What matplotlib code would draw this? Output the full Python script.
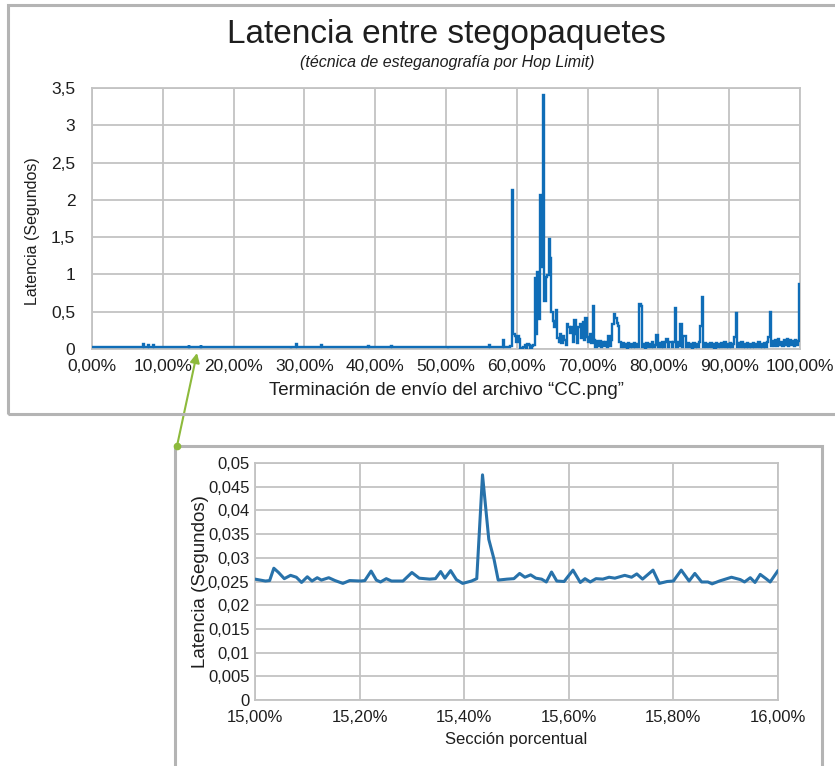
import numpy as np
import matplotlib
matplotlib.use("Agg")
import matplotlib.pyplot as plt
from matplotlib.patches import Rectangle
from matplotlib.lines import Line2D
from matplotlib.ticker import FuncFormatter, MultipleLocator

plt.rcParams['font.family'] = ['Liberation Sans', 'DejaVu Sans']

# ---------------- texts ----------------
title = "Latencia entre stegopaquetes"
subtitle = "(técnica de esteganografía por Hop Limit)"
top_xlabel = "Terminación de envío del archivo “CC.png”"
ylabel = "Latencia (Segundos)"
bottom_xlabel = "Sección porcentual"

# ---------------- top chart data (percent, seconds) ----------------
top_sparse_x = [0.0, 7.2, 7.3, 7.4, 7.9, 8.0, 8.1, 8.6, 8.7, 8.8,
                13.6, 13.7, 13.8, 15.3, 15.4, 15.5, 28.0, 28.1, 28.2,
                28.8, 28.9, 29.0, 32.3, 32.4, 32.5, 39.0, 39.1, 39.2,
                42.2, 42.3, 42.4, 50.2, 50.3, 50.4, 56.0, 56.1, 56.2,
                58.0, 58.1, 58.2, 58.4]
top_sparse_y = [0.025, 0.025, 0.07, 0.025, 0.025, 0.05, 0.025, 0.025, 0.06, 0.025,
                0.025, 0.055, 0.025, 0.025, 0.05, 0.025, 0.025, 0.04, 0.025,
                0.025, 0.065, 0.025, 0.025, 0.05, 0.025, 0.025, 0.045, 0.025,
                0.025, 0.04, 0.025, 0.025, 0.045, 0.025, 0.025, 0.05, 0.025,
                0.025, 0.115, 0.03, 0.025]

# dense part: one value every 0.2 % from 58.6 % to 100 %
dense_y = [
    0.03, 0.025, 0.03, 0.04, 2.13, 0.2, 0.17, 0.1, 0.18, 0.13,          # 58.6-60.4
    0.02, 0.01, 0.03, 0.06, 0.02, 0.07, 0.05, 0.02, 0.04, 0.05,         # 60.6-62.4
    0.95, 0.2, 1.03, 0.4, 2.07, 1.1, 3.41, 0.65, 0.96, 0.99,            # 62.6-64.4
    1.48, 1.22, 0.5, 0.38, 0.3, 0.52, 0.15, 0.1, 0.2, 0.08,             # 64.6-66.4
    0.18, 0.12, 0.05, 0.33, 0.3, 0.22, 0.29, 0.1, 0.39, 0.2,            # 66.6-68.4
    0.08, 0.29, 0.33, 0.15, 0.36, 0.12, 0.41, 0.16, 0.1, 0.2,           # 68.6-70.4
    0.08, 0.58, 0.12, 0.03, 0.11, 0.04, 0.11, 0.03, 0.1, 0.04,          # 70.6-72.4
    0.09, 0.03, 0.17, 0.04, 0.12, 0.33, 0.47, 0.42, 0.35, 0.31,         # 72.6-74.4
    0.1, 0.03, 0.08, 0.03, 0.07, 0.02, 0.08, 0.03, 0.07, 0.03,          # 74.6-76.4
    0.08, 0.03, 0.07, 0.03, 0.61, 0.58, 0.03, 0.07, 0.02, 0.08,         # 76.6-78.4
    0.03, 0.07, 0.03, 0.09, 0.03, 0.06, 0.19, 0.03, 0.08, 0.03,         # 78.6-80.4
    0.09, 0.03, 0.1, 0.13, 0.03, 0.09, 0.1, 0.03, 0.09, 0.55,           # 80.6-82.4
    0.03, 0.1, 0.04, 0.33, 0.03, 0.18, 0.17, 0.03, 0.08, 0.03,          # 82.6-84.4
    0.07, 0.02, 0.08, 0.03, 0.07, 0.03, 0.09, 0.31, 0.7, 0.03,          # 84.6-86.4
    0.08, 0.03, 0.07, 0.03, 0.08, 0.03, 0.07, 0.02, 0.08, 0.03,         # 86.6-88.4
    0.07, 0.03, 0.08, 0.03, 0.09, 0.03, 0.07, 0.03, 0.08, 0.03,         # 88.6-90.4
    0.07, 0.16, 0.48, 0.03, 0.08, 0.03, 0.09, 0.03, 0.07, 0.03,         # 90.6-92.4
    0.08, 0.03, 0.07, 0.03, 0.08, 0.03, 0.07, 0.03, 0.09, 0.03,         # 92.6-94.4
    0.07, 0.03, 0.08, 0.03, 0.09, 0.16, 0.49, 0.04, 0.11, 0.04,         # 94.6-96.4
    0.12, 0.04, 0.13, 0.05, 0.1, 0.04, 0.12, 0.05, 0.14, 0.04,          # 96.6-98.4
    0.12, 0.05, 0.11, 0.04, 0.12, 0.05, 0.11, 0.87,                     # 98.6-100
]
dense_x = np.round(np.arange(58.6, 100.0001, 0.2), 1)[:len(dense_y)]

top_x = np.concatenate([top_sparse_x, dense_x])
top_y = np.concatenate([top_sparse_y, dense_y])

# ---------------- bottom chart data ----------------
bot_x = [15.000, 15.020, 15.028, 15.036, 15.045, 15.056, 15.068, 15.079, 15.089,
         15.100, 15.109, 15.119, 15.127, 15.141, 15.153, 15.168, 15.181, 15.202,
         15.210, 15.222, 15.232, 15.240, 15.251, 15.261, 15.283, 15.300, 15.314,
         15.334, 15.345, 15.355, 15.363, 15.374, 15.385, 15.397, 15.414, 15.424,
         15.435, 15.447, 15.457, 15.465, 15.482, 15.495, 15.506, 15.516, 15.527,
         15.537, 15.548, 15.557, 15.567, 15.577, 15.591, 15.608, 15.622, 15.631,
         15.641, 15.652, 15.665, 15.677, 15.688, 15.707, 15.720, 15.730, 15.741,
         15.761, 15.773, 15.788, 15.800, 15.815, 15.830, 15.841, 15.854, 15.866,
         15.874, 15.888, 15.911, 15.928, 15.936, 15.947, 15.956, 15.966, 15.977,
         15.985, 16.000]
bot_y = [0.0255, 0.0251, 0.0252, 0.0278, 0.0269, 0.0256, 0.0263, 0.0259, 0.0248,
         0.0260, 0.0251, 0.0258, 0.0253, 0.0258, 0.0252, 0.0246, 0.0252, 0.0251,
         0.0252, 0.0272, 0.0253, 0.0249, 0.0256, 0.0251, 0.0251, 0.0269, 0.0257,
         0.0255, 0.0256, 0.0271, 0.0257, 0.0273, 0.0254, 0.0246, 0.0251, 0.0256,
         0.0475, 0.0339, 0.0297, 0.0253, 0.0255, 0.0256, 0.0267, 0.0259, 0.0264,
         0.0257, 0.0255, 0.0249, 0.0270, 0.0251, 0.0250, 0.0274, 0.0248, 0.0256,
         0.0249, 0.0256, 0.0255, 0.0259, 0.0257, 0.0263, 0.0259, 0.0266, 0.0255,
         0.0274, 0.0246, 0.0250, 0.0251, 0.0274, 0.0251, 0.0267, 0.0249, 0.0249,
         0.0245, 0.0251, 0.0259, 0.0254, 0.0249, 0.0258, 0.0248, 0.0265, 0.0256,
         0.0249, 0.0273]

# ---------------- styling ----------------
W, H = 835, 766
fig = plt.figure(figsize=(W / 100, H / 100), dpi=100)
fig.patch.set_facecolor('white')

grid_c = '#c3c3c3'
box_c = '#b4b4b4'
txt_c = '#1e1e1e'
top_line_c = '#0f6db7'
bot_line_c = '#2872aa'
arrow_c = '#8dba3c'


def fx(px):
    return px / W


def fy(py):
    return 1 - py / H


comma = lambda s: s.replace('.', ',')

# frames
fig.add_artist(Rectangle((fx(8), fy(414)), 1.0, fy(5) - fy(414), transform=fig.transFigure,
                         fill=False, edgecolor=box_c, lw=2.2, clip_on=False))
fig.add_artist(Rectangle((fx(175), -0.02), fx(822) - fx(175), fy(446) + 0.02,
                         transform=fig.transFigure, fill=False, edgecolor=box_c,
                         lw=2.2, clip_on=False))

# ---------- top axes ----------
ax1 = fig.add_axes([fx(92), fy(349), fx(800) - fx(92), fy(88) - fy(349)])
ax1.plot(top_x, top_y, color=top_line_c, lw=1.7, drawstyle='steps-mid',
         solid_joinstyle='miter', zorder=3)
ax1.set_xlim(0, 100)
ax1.set_ylim(0, 3.5)
ax1.xaxis.set_major_locator(MultipleLocator(10))
ax1.yaxis.set_major_locator(MultipleLocator(0.5))
ax1.xaxis.set_major_formatter(FuncFormatter(lambda v, p: comma(f"{v:.2f}%")))
ax1.yaxis.set_major_formatter(FuncFormatter(lambda v, p: comma(f"{v:g}")))
ax1.grid(True, color=grid_c, lw=1.3)
ax1.set_axisbelow(True)
for s in ax1.spines.values():
    s.set_color(grid_c)
    s.set_linewidth(1.3)
ax1.tick_params(axis='both', length=0, labelsize=12.5, colors=txt_c)
ax1.tick_params(axis='x', pad=7)
ax1.tick_params(axis='y', pad=12)
ax1.set_xlabel(top_xlabel, fontsize=13.5, color=txt_c, labelpad=6)
ax1.set_ylabel(ylabel, fontsize=11.5, color=txt_c)
ax1.yaxis.set_label_coords(-0.073, 0.45)

fig.text(fx(446), fy(35), title, fontsize=24, ha='center', va='center', color=txt_c)
fig.text(fx(447), fy(62), subtitle, fontsize=11.5, style='italic', ha='center',
         va='center', color=txt_c)

# ---------- bottom axes ----------
ax2 = fig.add_axes([fx(255), fy(700), fx(778) - fx(255), fy(463) - fy(700)])
ax2.plot(bot_x, bot_y, color=bot_line_c, lw=2.2, solid_joinstyle='round',
         solid_capstyle='round', zorder=3)
ax2.set_xlim(15.0, 16.0)
ax2.set_ylim(0, 0.05)
ax2.xaxis.set_major_locator(MultipleLocator(0.2))
ax2.yaxis.set_major_locator(MultipleLocator(0.005))
ax2.xaxis.set_major_formatter(FuncFormatter(lambda v, p: comma(f"{v:.2f}%")))
ax2.yaxis.set_major_formatter(FuncFormatter(lambda v, p: comma(f"{round(v, 4):g}")))
ax2.grid(True, color=grid_c, lw=1.3)
ax2.set_axisbelow(True)
for s in ax2.spines.values():
    s.set_color(grid_c)
    s.set_linewidth(1.3)
ax2.tick_params(axis='both', length=0, labelsize=12, colors=txt_c)
ax2.tick_params(axis='x', pad=7)
ax2.tick_params(axis='y', pad=4)
ax2.set_xlabel(bottom_xlabel, fontsize=12, color=txt_c, labelpad=5)
ax2.set_ylabel(ylabel, fontsize=13.5, color=txt_c)
ax2.yaxis.set_label_coords((209 - 255) / (778 - 255), 0.5)

# ---------- connecting arrow ----------
fig.add_artist(Line2D([fx(177)], [fy(446)], marker='o', markersize=4.5, color=arrow_c,
                      transform=fig.transFigure))
ax1.annotate('', xy=(fx(197), fy(353)), xycoords='figure fraction',
             xytext=(fx(177), fy(446)), textcoords='figure fraction',
             arrowprops=dict(arrowstyle='-|>', color=arrow_c, lw=1.5,
                             mutation_scale=14, shrinkA=0, shrinkB=0),
             annotation_clip=False)

fig.savefig('out.png', dpi=100, facecolor='white')
